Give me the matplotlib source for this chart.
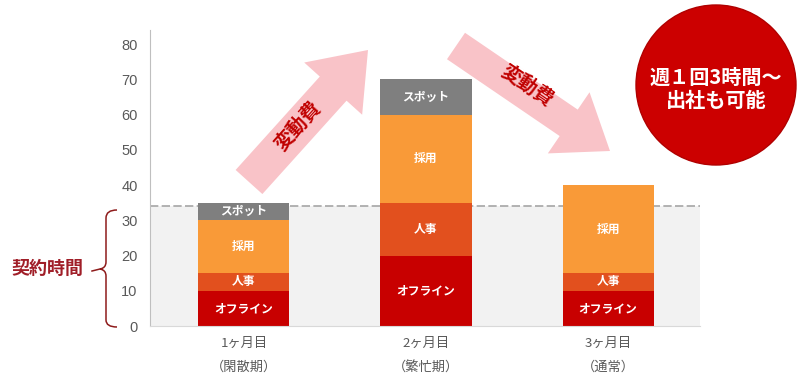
import matplotlib
matplotlib.use("Agg")
import matplotlib.pyplot as plt
from matplotlib.patches import FancyArrow, Circle, PathPatch
from matplotlib.path import Path
import numpy as np

plt.rcParams['font.family'] = ['Noto Sans CJK JP', 'DejaVu Sans']

# ---- data ----
categories = ["1ヶ月目\n（閑散期）", "2ヶ月目\n（繁忙期）", "3ヶ月目\n（通常）"]
series_names = ["オフライン", "人事", "採用", "スポット"]
offline = [10, 20, 10]
jinji = [5, 15, 5]
saiyo = [15, 25, 25]
spot = [5, 10, 0]
contract_hours = 34
y_ticks = [0, 10, 20, 30, 40, 50, 60, 70, 80]

colors = ["#C80000", "#E2501E", "#F99A38", "#7F7F7F"]

W, H = 804, 380
fig = plt.figure(figsize=(W / 100, H / 100), dpi=100)

# main chart area (pixel placement converted to figure fractions)
ax = fig.add_axes([150 / W, 54 / H, 550 / W, 296 / H])
ax.set_xlim(-0.516, 2.505)
ax.set_ylim(0, 84)

x = np.arange(len(categories))
bar_w = 0.5

# contract-hours band
ax.axhspan(0, contract_hours, color="#F2F2F2", zorder=0, lw=0)
ax.axhline(contract_hours, color="#A6A6A6", lw=1.2, ls=(0, (5, 2)), zorder=1)

bottom = np.zeros(len(categories))
for name, vals, c in zip(series_names, [offline, jinji, saiyo, spot], colors):
    vals = np.array(vals, dtype=float)
    ax.bar(x, vals, bar_w, bottom=bottom, color=c, zorder=2, lw=0)
    for xi, b, v in zip(x, bottom, vals):
        if v > 0:
            ax.text(xi, b + v / 2, name, ha="center", va="center", color="white",
                    fontsize=8.5, fontweight="bold", zorder=3)
    bottom += vals

ax.set_yticks(y_ticks)
ax.set_yticklabels([str(t) for t in y_ticks], fontsize=10.5, color="#595959",
                   family=['Liberation Sans', 'DejaVu Sans'])
ax.set_xticks(x)
ax.set_xticklabels(categories, fontsize=9.5, color="#595959", linespacing=2.1)
ax.tick_params(axis="both", length=0)
ax.tick_params(axis="y", pad=9)
ax.tick_params(axis="x", pad=8)
for s in ["top", "right"]:
    ax.spines[s].set_visible(False)
ax.spines["left"].set_color("#BFBFBF")
ax.spines["bottom"].set_color("#D9D9D9")

# overlay in pixel coordinates for the annotations
ov = fig.add_axes([0, 0, 1, 1], facecolor="none")
ov.set_xlim(0, W)
ov.set_ylim(H, 0)
ov.axis("off")

pink = "#F9C3C8"
dark_red = "#C00000"

def big_arrow(x0, y0, x1, y1, shaft, head_w, head_l):
    dx, dy = x1 - x0, y1 - y0
    ov.add_patch(FancyArrow(x0, y0, dx, dy, width=shaft, head_width=head_w,
                            head_length=head_l, length_includes_head=True,
                            color=pink, lw=0, zorder=1))

big_arrow(249, 182, 368, 50, 36, 78, 52)
ov.text(298, 126, "変動費", rotation=48, ha="center", va="center",
        color=dark_red, fontsize=14, fontweight="bold", zorder=2)

big_arrow(456, 46, 610, 151, 32, 74, 50)
ov.text(527, 86, "変動費", rotation=-34, ha="center", va="center",
        color=dark_red, fontsize=14, fontweight="bold", zorder=2)

# callout circle
ov.add_patch(Circle((716, 85), 80, facecolor="#CC0000", edgecolor="#B00000",
                    lw=1, zorder=1))
ov.text(716, 89, "週１回3時間～\n出社も可能", ha="center", va="center",
        color="white", fontsize=14.5, fontweight="bold", linespacing=1.15, zorder=2)

# bracket for contract hours
brace_c = "#8E1B1B"
verts = [(117, 210), (106, 210), (106, 218),
         (106, 262), (106, 268), (100, 269),
         (106, 270), (106, 276),
         (106, 320), (106, 327), (117, 327)]
codes = [Path.MOVETO, Path.CURVE3, Path.CURVE3,
         Path.LINETO, Path.CURVE3, Path.CURVE3,
         Path.CURVE3, Path.CURVE3,
         Path.LINETO, Path.CURVE3, Path.CURVE3]
ov.add_patch(PathPatch(Path(verts, codes), facecolor="none", edgecolor=brace_c, lw=1.1))
ov.plot([92, 100], [271, 269], color=brace_c, lw=1.1)
ov.text(47, 268, "契約時間", ha="center", va="center", color="#A01E28",
        fontsize=13, fontweight="bold")

fig.savefig("out.png", dpi=100)
